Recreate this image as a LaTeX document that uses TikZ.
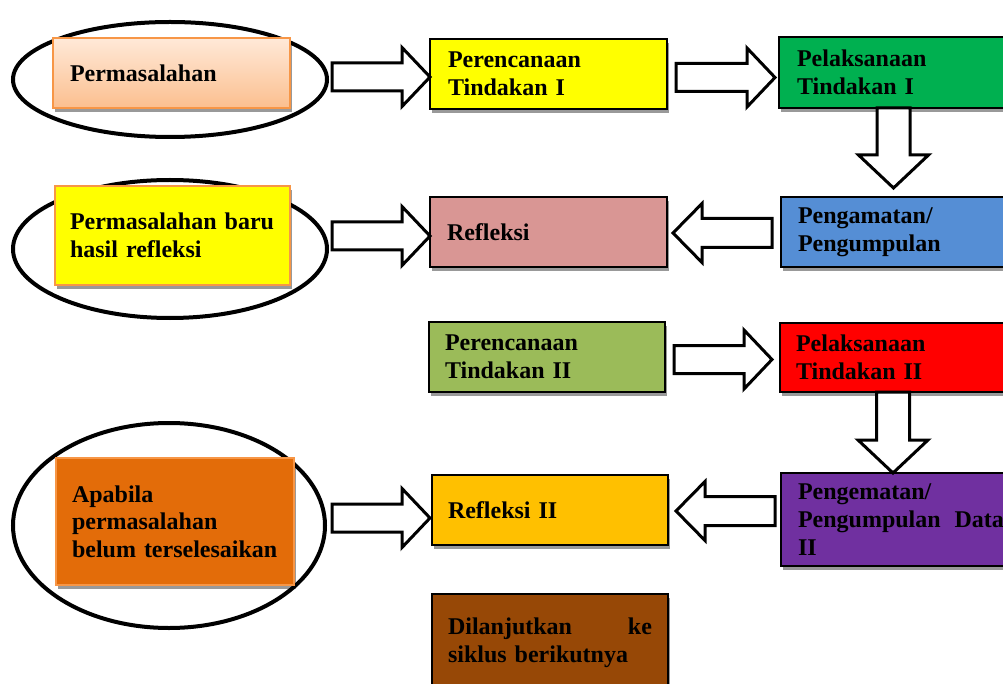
\documentclass[tikz,border=0pt]{standalone}
\usepackage{fontspec}
\setmainfont{Liberation Serif}
\usetikzlibrary{shapes.geometric,shadows,calc}
\definecolor{borange}{HTML}{F79646}
\definecolor{ptop}{HTML}{FFE9D8}
\definecolor{pbot}{HTML}{FBBF8F}
\definecolor{cyellow}{HTML}{FFFF00}
\definecolor{cgreen}{HTML}{00B050}
\definecolor{cblue}{HTML}{558ED5}
\definecolor{cpink}{HTML}{D99694}
\definecolor{colive}{HTML}{9BBB59}
\definecolor{cred}{HTML}{FF0000}
\definecolor{cdorange}{HTML}{E36C09}
\definecolor{cgold}{HTML}{FFC000}
\definecolor{cpurple}{HTML}{7030A0}
\definecolor{cbrown}{HTML}{974806}
\tikzset{
  txt/.style={font=\fontsize{24}{27.6}\selectfont\bfseries},
  box/.style={draw=black, line width=2.5pt, anchor=north west, inner sep=0pt, outer sep=0pt,
    align=left, txt, drop shadow={shadow xshift=2pt, shadow yshift=-4pt, opacity=0.4, fill=black}},
  obox/.style={box, draw=borange, line width=2pt},
  oval/.style={ellipse, draw=black, line width=4pt, inner sep=0pt, outer sep=0pt},
  fatarrow/.style={draw=black, line width=3pt, fill=white, line join=miter}
}
\newcommand\rfat[2]{\path[fatarrow] let \p1=(#1), \p2=(#2) in
  (\x1,{\y2+14pt}) -- ({\x2-28pt},{\y2+14pt}) -- ({\x2-28pt},{\y2+29.5pt}) -- (\x2,\y2)
  -- ({\x2-28pt},{\y2-29.5pt}) -- ({\x2-28pt},{\y2-14pt}) -- (\x1,{\y2-14pt}) -- cycle;}
\newcommand\lfat[2]{\path[fatarrow] let \p1=(#1), \p2=(#2) in
  (\x1,{\y2+14.5pt}) -- ({\x2+29pt},{\y2+14.5pt}) -- ({\x2+29pt},{\y2+29.5pt}) -- (\x2,\y2)
  -- ({\x2+29pt},{\y2-29.5pt}) -- ({\x2+29pt},{\y2-14.5pt}) -- (\x1,{\y2-14.5pt}) -- cycle;}
\newcommand\dfat[2]{\path[fatarrow] let \p1=(#1), \p2=(#2) in
  ({\x2-16.5pt},\y1) -- ({\x2-16.5pt},{\y2+33pt}) -- ({\x2-35pt},{\y2+33pt}) -- (\x2,\y2)
  -- ({\x2+35pt},{\y2+33pt}) -- ({\x2+16.5pt},{\y2+33pt}) -- ({\x2+16.5pt},\y1) -- cycle;}
\begin{document}
\begin{tikzpicture}[x=1pt,y=-1pt]
\useasboundingbox (0,0) rectangle (1003,684);
\clip (0,0) rectangle (1003,684);
% ellipses
\node[oval, minimum width=314pt, minimum height=115pt] (e1) at (170,79.5) {};
\node[oval, minimum width=314pt, minimum height=138pt] (e2) at (170,249) {};
\node[oval, minimum width=312pt, minimum height=205pt] (e3) at (169,525.5) {};
% boxes
\node[obox, top color=ptop, bottom color=pbot, minimum width=237pt, minimum height=70pt, text width=203pt] (p1) at (53,38) {Permasalahan};
\node[box, fill=cyellow, minimum width=237pt, minimum height=70pt, text width=201pt] (b1) at (430,39) {Perencanaan\\Tindakan I};
\node[box, fill=cgreen, minimum width=242pt, minimum height=71pt, text width=206pt] (g1) at (779,37) {Pelaksanaan\\Tindakan I};
\node[obox, fill=cyellow, minimum width=235pt, minimum height=99pt, text width=205pt] (p2) at (55,186) {\mbox{Permasalahan baru}\\hasil refleksi};
\node[box, fill=cpink, minimum width=237pt, minimum height=70pt, text width=203pt] (r1) at (430,197) {Refleksi};
\node[box, fill=cblue, minimum width=240pt, minimum height=70pt, text width=206pt] (bl) at (781,197) {Pengamatan/\\Pengumpulan};
\node[box, fill=colive, minimum width=236pt, minimum height=70pt, text width=204pt] (o2) at (429,322) {Perencanaan\\Tindakan II};
\node[box, fill=cred, minimum width=241pt, minimum height=69pt, text width=209pt] (rd) at (780,323) {Pelaksanaan\\Tindakan II};
\node[obox, fill=cdorange, minimum width=238pt, minimum height=127pt, text width=206pt] (ap) at (56,458) {Apabila\\permasalahan\\\mbox{belum terselesaikan}};
\node[box, fill=cgold, minimum width=236pt, minimum height=70pt, text width=204pt] (r2) at (432,475) {Refleksi II};
\node[box, fill=cpurple, minimum width=240pt, minimum height=93pt, text width=206pt] (pu) at (781,473) {Pengematan/\\\makebox[206pt][s]{Pengumpulan\hfill Data}\\II};
\node[box, fill=cbrown, minimum width=236pt, minimum height=98pt, text width=204pt] (br) at (432,594) {\makebox[204pt][s]{Dilanjutkan\hfill ke}\\siklus berikutnya};
% block arrows
\rfat{$(e1.east)+(5,0)$}{$(b1.west)+(0,3)$}
\rfat{$(b1.east)+(9,0)$}{$(g1.west)+(-4,5)$}
\dfat{$(g1.south west)+(114.5,0)$}{$(bl.north west)+(112.5,-9)$}
\lfat{$(bl.west)+(-9,0)$}{$(r1.east)+(6,1)$}
\rfat{$(e2.east)+(5,0)$}{$(r1.west)+(0,4)$}
\rfat{$(o2.east)+(9,0)$}{$(rd.west)+(-8,2)$}
\dfat{$(rd.south west)+(113.5,0)$}{$(pu.north west)+(112,0)$}
\lfat{$(pu.west)+(-6,0)$}{$(r2.east)+(8,1)$}
\rfat{$(e3.east)+(7,0)$}{$(r2.west)+(-2,8)$}
\end{tikzpicture}
\end{document}
